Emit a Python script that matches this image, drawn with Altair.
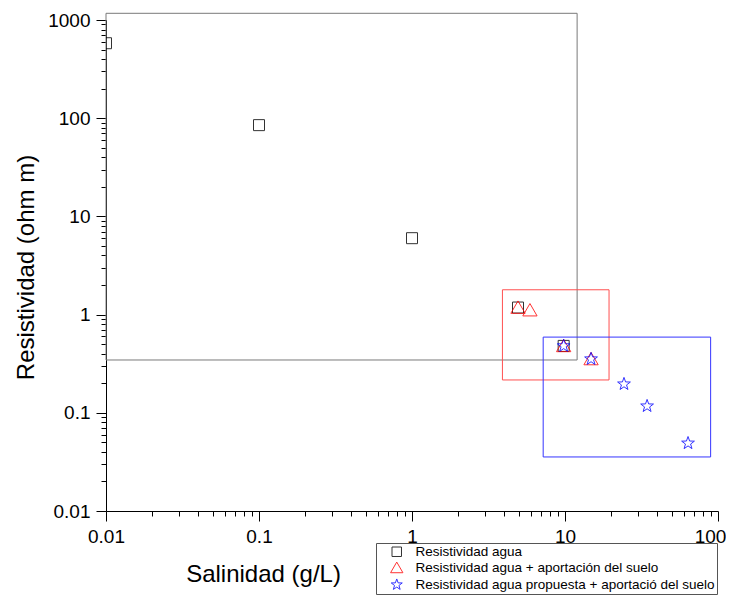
import altair as alt
import pandas as pd

FONT = "Liberation Sans"

series_names = [
    "Resistividad agua",
    "Resistividad agua + aportación del suelo",
    "Resistividad agua propuesta + aportació del suelo",
]
series_colors = ["#000000", "#ff0000", "#0000ff"]
TRIANGLE = "M0,-1.2L1.3,1.05L-1.3,1.05Z"
STAR = ("M0,-1.22L0.288,-0.396L1.16,-0.377L0.466,0.151L0.717,0.987L0,0.49"
        "L-0.717,0.987L-0.466,0.151L-1.16,-0.377L-0.288,-0.396Z")
series_shapes = ["square", TRIANGLE, STAR]

# Series values (salinity g/L, resistivity ohm m)
agua_sal = [0.01, 0.1, 1, 4.93, 9.8]
agua_res = [580, 85, 6, 1.18, 0.48]
aport_sal = [4.93, 5.9, 9.8, 14.8]
aport_res = [1.18, 1.11, 0.48, 0.353]
prop_sal = [9.8, 14.8, 24.3, 34.4, 63.7]
prop_res = [0.48, 0.353, 0.196, 0.117, 0.049]

# Range boxes
box_names = ["agua", "aporte", "propuesta"]
box_sal_min = [0.01, 3.9, 7.2]
box_sal_max = [12.0, 19.4, 89.5]
box_res_min = [0.345, 0.216, 0.0355]
box_res_max = [1170, 1.79, 0.59]
box_colors = ["#7a7a7a", "#ff5050", "#3535ff"]

# Tick values
x_ticks = [round(k * 10 ** e, 6) for e in range(-2, 2) for k in range(1, 10)] + [100]
y_ticks = [round(k * 10 ** e, 6) for e in range(-2, 3) for k in range(1, 10)] + [1000]

rows = []
for name, xs, ys in zip(series_names, [agua_sal, aport_sal, prop_sal], [agua_res, aport_res, prop_res]):
    for xv, yv in zip(xs, ys):
        rows.append({"serie": name, "sal": xv, "res": yv})
points_df = pd.DataFrame(rows)

boxes_df = pd.DataFrame({
    "box": box_names,
    "x1": box_sal_min,
    "x2": box_sal_max,
    "y1": box_res_min,
    "y2": box_res_max,
})

MAJOR = "abs(log(datum.value)/LN10 - round(log(datum.value)/LN10)) < 0.001"
LABEL = MAJOR + " ? format(datum.value, '~g') : ''"
tick_cond = {"condition": {"test": MAJOR, "value": 10}, "value": 5}

common_axis = dict(
    labelExpr=LABEL,
    tickSize=tick_cond,
    labelFontSize=19,
    labelFont=FONT,
    labelColor="black",
    labelOverlap=False,
    labelFlush=False,
    titleFontSize=24,
    titleFont=FONT,
    titleFontWeight="normal",
    titleColor="black",
    titleAlign="center",
    titleBaseline="alphabetic",
    grid=False,
    domainColor="black",
    tickColor="black",
    domainWidth=1,
    tickWidth=1,
)

x_scale = alt.Scale(type="log", domain=[0.01, 100], nice=False)
y_scale = alt.Scale(type="log", domain=[0.01, 1000], nice=False)

x_axis = alt.Axis(values=x_ticks, title="Salinidad (g/L)", orient="bottom", labelPadding=6,
                  labelOffset={"condition": {"test": "datum.value >= 99", "value": -8}, "value": 0},
                  titleX=157, titleY=70, **common_axis)
y_axis = alt.Axis(values=y_ticks, title="Resistividad (ohm m)", orient="left", labelPadding=6,
                  titleX=-73, titleY=247, titleAngle=270, **common_axis)

rects = alt.Chart(boxes_df).mark_rect(fillOpacity=0, strokeWidth=1, clip=False).encode(
    x=alt.X("x1:Q", scale=x_scale, axis=x_axis),
    x2="x2:Q",
    y=alt.Y("y1:Q", scale=y_scale, axis=y_axis),
    y2="y2:Q",
    stroke=alt.Stroke("box:N", scale=alt.Scale(domain=box_names, range=box_colors), legend=None),
)

points = alt.Chart(points_df).mark_point(size=121, strokeWidth=1, opacity=0.8, clip=True).encode(
    x=alt.X("sal:Q", scale=x_scale, axis=x_axis),
    y=alt.Y("res:Q", scale=y_scale, axis=y_axis),
    color=alt.Color("serie:N", scale=alt.Scale(domain=series_names, range=series_colors),
                    legend=alt.Legend(orient="none", legendX=270, legendY=523, title=None,
                                      strokeColor="#555555", padding=2, rowPadding=1,
                                      labelFontSize=13.5, labelFont=FONT, labelColor="black",
                                      symbolSize=90, symbolStrokeWidth=1, labelOffset=12,
                                      symbolOffset=12, labelLimit=500, symbolOpacity=0.8)),
    shape=alt.Shape("serie:N", scale=alt.Scale(domain=series_names, range=series_shapes)),
)

chart = alt.layer(rects, points).properties(
    width=612,
    height=491,
    autosize=alt.AutoSizeParams(type="none"),
    padding={"left": 98, "top": 12, "right": 8, "bottom": 84},
).configure_view(stroke=None)

chart.save("out.html", embed_options={"renderer": "svg", "actions": False})
